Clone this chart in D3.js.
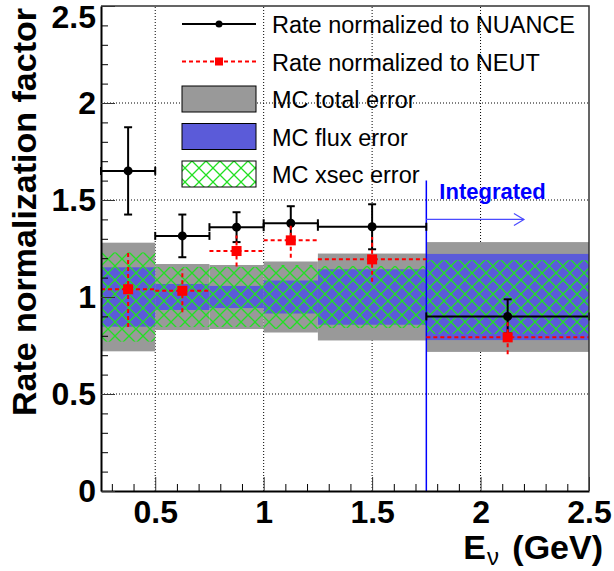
<!DOCTYPE html>
<html>
<head>
<meta charset="utf-8">
<script src="https://cdn.jsdelivr.net/npm/d3@7"></script>
<style>
  body { margin: 0; background: #fff; }
  text { font-family: "Liberation Sans", Arial, Helvetica, sans-serif; }
</style>
</head>
<body>
<svg id="chart" width="614" height="571"></svg>
<script>
// energy bins (GeV)
const binLo = [0.25, 0.5, 0.75, 1.0, 1.25, 1.75];
const binHi = [0.5, 0.75, 1.0, 1.25, 1.75, 2.5];
const binCenter = [0.375, 0.625, 0.875, 1.125, 1.5, 2.125];

// rate normalization factors
const nuance = [1.65, 1.315, 1.36, 1.38, 1.362, 0.90];
const nuanceErr = [0.225, 0.11, 0.077, 0.088, 0.116, 0.088];
const neut = [1.04, 1.032, 1.237, 1.292, 1.194, 0.792];
const neutErr = [0.195, 0.11, 0.08, 0.09, 0.115, 0.087];

// MC error bands around 1
const mcCenter = [1, 1, 1, 1, 1, 1];
const totalErr = [0.28, 0.17, 0.165, 0.183, 0.224, 0.283];
const fluxErr = [0.153, 0.067, 0.057, 0.085, 0.143, 0.222];
const xsecErr = [0.23, 0.155, 0.155, 0.165, 0.16, 0.19];

const xTicks = [0.5, 1, 1.5, 2, 2.5];
const yTicks = [0, 0.5, 1, 1.5, 2, 2.5];

const legendLabels = ["Rate normalized to NUANCE", "Rate normalized to NEUT",
  "MC total error", "MC flux error", "MC xsec error"];

const integratedFrom = 1.75;

const svg = d3.select("#chart");

let x = d3.scaleLinear().domain([0.25, 2.5]).range([101, 589]);
let y = d3.scaleLinear().domain([0, 2.5]).range([491, 6]);

const gray = "#999999";
const blue = "#5b5bd9";
const green = "#22e022";

// hatch pattern for xsec error
const defs = svg.append("defs");
const pat = defs.append("pattern")
    .attr("id", "hatch")
    .attr("patternUnits", "userSpaceOnUse")
    .attr("x", 101).attr("y", 0)
    .attr("width", 14).attr("height", 14);
pat.append("path")
    .attr("d", "M0,0L14,14M14,0L0,14")
    .attr("stroke", green)
    .attr("stroke-width", 1.3);

// grid
svg.append("g").selectAll("line")
  .data(xTicks.filter(d => d < 2.5))
  .enter().append("line")
    .attr("x1", d => x(d)).attr("x2", d => x(d))
    .attr("y1", y(0)).attr("y2", y(2.5))
    .attr("stroke", "#000").attr("stroke-width", 1)
    .attr("stroke-dasharray", "1,2");
svg.append("g").selectAll("line")
  .data(yTicks.filter(d => d > 0 && d < 2.5))
  .enter().append("line")
    .attr("x1", x(0.25)).attr("x2", x(2.5))
    .attr("y1", d => y(d)).attr("y2", d => y(d))
    .attr("stroke", "#000").attr("stroke-width", 1)
    .attr("stroke-dasharray", "1,2");

// bands
function drawBand(err, fill){
  svg.append("g").selectAll("rect")
    .data(binLo)
    .enter().append("rect")
      .attr("x", (d, i) => x(d))
      .attr("width", (d, i) => x(binHi[i]) - x(d))
      .attr("y", (d, i) => y(mcCenter[i] + err[i]))
      .attr("height", (d, i) => y(mcCenter[i] - err[i]) - y(mcCenter[i] + err[i]))
      .attr("fill", fill);
}
drawBand(totalErr, gray);
drawBand(fluxErr, blue);
drawBand(xsecErr, "url(#hatch)");

// integrated marker
svg.append("line")
    .attr("x1", x(integratedFrom)).attr("x2", x(integratedFrom))
    .attr("y1", y(0)).attr("y2", y(1.6))
    .attr("stroke", "#0000ff").attr("stroke-width", 1.5);
svg.append("line")
    .attr("x1", x(integratedFrom)).attr("x2", x(2.2))
    .attr("y1", y(1.4)).attr("y2", y(1.4))
    .attr("stroke", "#4a4aff").attr("stroke-width", 1.2);
svg.append("path")
    .attr("d", `M${x(2.2) - 10},${y(1.4) - 6}L${x(2.2)},${y(1.4)}L${x(2.2) - 10},${y(1.4) + 6}`)
    .attr("fill", "none")
    .attr("stroke", "#4a4aff").attr("stroke-width", 1.2);
svg.append("text")
    .attr("x", x(1.81)).attr("y", y(1.505))
    .attr("font-size", 22).attr("font-weight", "bold")
    .attr("fill", "#0000ff")
    .text("Integrated");

// data points with error bars
function drawPoints(vals, errs, color, dash, caps){
  const g = svg.append("g");
  vals.forEach((v, i) => {
    g.append("line")
      .attr("x1", x(binLo[i])).attr("x2", x(binHi[i]))
      .attr("y1", y(v)).attr("y2", y(v))
      .attr("stroke", color).attr("stroke-width", 2)
      .attr("stroke-dasharray", dash);
    g.append("line")
      .attr("x1", x(binCenter[i])).attr("x2", x(binCenter[i]))
      .attr("y1", y(v - errs[i])).attr("y2", y(v + errs[i]))
      .attr("stroke", color).attr("stroke-width", 2)
      .attr("stroke-dasharray", dash);
    if (caps){
      [binLo[i], binHi[i]].forEach(e => {
        g.append("line")
          .attr("x1", x(e)).attr("x2", x(e))
          .attr("y1", y(v) - 4).attr("y2", y(v) + 4)
          .attr("stroke", color).attr("stroke-width", 2);
      });
      [v - errs[i], v + errs[i]].forEach(e => {
        g.append("line")
          .attr("x1", x(binCenter[i]) - 4).attr("x2", x(binCenter[i]) + 4)
          .attr("y1", y(e)).attr("y2", y(e))
          .attr("stroke", color).attr("stroke-width", 2);
      });
    }
  });
  return g;
}
const gNuance = drawPoints(nuance, nuanceErr, "#000", null, true);
gNuance.selectAll("circle")
  .data(nuance)
  .enter().append("circle")
    .attr("cx", (d, i) => x(binCenter[i]))
    .attr("cy", d => y(d))
    .attr("r", 4.5)
    .attr("fill", "#000");

const gNeut = drawPoints(neut, neutErr, "#ff0000", "4,3", false);
gNeut.selectAll("rect")
  .data(neut)
  .enter().append("rect")
    .attr("x", (d, i) => x(binCenter[i]) - 5)
    .attr("y", d => y(d) - 5)
    .attr("width", 10).attr("height", 10)
    .attr("fill", "#ff0000");

// axes
const minorX = d3.range(0.3, 2.5, 0.1).filter(d => Math.abs(d * 2 - Math.round(d * 2)) > 0.01);
const minorY = d3.range(0.1, 2.5, 0.1).filter(d => Math.abs(d * 2 - Math.round(d * 2)) > 0.01);

svg.append("g")
    .attr("transform", "translate(0," + y(0) + ")")
    .call(d3.axisBottom(x).tickValues(minorX).tickSize(-7).tickSizeOuter(0).tickFormat(""))
    .call(g => g.select(".domain").remove());
svg.append("g")
    .attr("transform", "translate(" + x(0.25) + ",0)")
    .call(d3.axisLeft(y).tickValues(minorY).tickSize(-7).tickSizeOuter(0).tickFormat(""))
    .call(g => g.select(".domain").remove());

const xAxis = svg.append("g")
    .attr("transform", "translate(0," + y(0) + ")")
    .call(d3.axisBottom(x).tickValues(xTicks).tickSize(-14).tickSizeOuter(0).tickPadding(9)
      .tickFormat(d3.format("")));
const yAxis = svg.append("g")
    .attr("transform", "translate(" + x(0.25) + ",0)")
    .call(d3.axisLeft(y).tickValues(yTicks).tickSize(-14).tickSizeOuter(0).tickPadding(5)
      .tickFormat(d3.format("")));

[xAxis, yAxis].forEach(a => {
  a.selectAll(".tick line").attr("stroke", "#333").attr("stroke-width", 1);
  a.selectAll(".tick text")
    .attr("font-size", 32).attr("font-weight", "bold")
    .attr("font-family", "'Liberation Sans', Arial, sans-serif")
    .attr("fill", "#000");
  a.select(".domain").attr("stroke", "#000").attr("stroke-width", 2);
});
// keep the top label inside the picture
yAxis.selectAll(".tick text").filter(d => d === 2.5).attr("dy", "0.66em");

// frame top and right
svg.append("path")
    .attr("d", `M${x(0.25)},${y(2.5)}H${x(2.5)}V${y(0)}`)
    .attr("fill", "none")
    .attr("stroke", "#333").attr("stroke-width", 1.5);

// axis titles
svg.append("text")
    .attr("transform", "translate(36,8) rotate(-90)")
    .attr("text-anchor", "end")
    .attr("font-size", 34).attr("font-weight", "bold")
    .text("Rate normalization factor");

const xt = svg.append("text")
    .attr("x", 603).attr("y", 559)
    .attr("text-anchor", "end")
    .attr("font-size", 34).attr("font-weight", "bold");
xt.append("tspan").text("E");
xt.append("tspan").attr("font-size", 24).attr("font-weight", "normal").attr("dy", 6).attr("dx", 1).text("ν");
xt.append("tspan").attr("dy", -6).attr("dx", 4).text(" (GeV)");

// legend
const legend = svg.append("g");
const rowY = d3.range(legendLabels.length).map(i => 24 + i * 37.5);
legend.selectAll("text")
  .data(legendLabels)
  .enter().append("text")
    .attr("x", 272)
    .attr("y", (d, i) => rowY[i] + 9)
    .attr("font-size", 23.5)
    .attr("fill", "#000")
    .text(d => d);

legend.append("line")
    .attr("x1", 182).attr("x2", 256).attr("y1", rowY[0]).attr("y2", rowY[0])
    .attr("stroke", "#000").attr("stroke-width", 2);
legend.append("circle")
    .attr("cx", 219).attr("cy", rowY[0]).attr("r", 3.5).attr("fill", "#000");
legend.append("line")
    .attr("x1", 182).attr("x2", 256).attr("y1", rowY[1]).attr("y2", rowY[1])
    .attr("stroke", "#ff0000").attr("stroke-width", 2).attr("stroke-dasharray", "4,3");
legend.append("rect")
    .attr("x", 215).attr("y", rowY[1] - 4).attr("width", 8).attr("height", 8)
    .attr("fill", "#ff0000");
[gray, blue, "url(#hatch)"].forEach((f, k) => {
  legend.append("rect")
    .attr("x", 182).attr("y", rowY[k + 2] - 13)
    .attr("width", 74).attr("height", 26)
    .attr("fill", f)
    .attr("stroke", "#000").attr("stroke-width", 1);
});
</script>
</body>
</html>
